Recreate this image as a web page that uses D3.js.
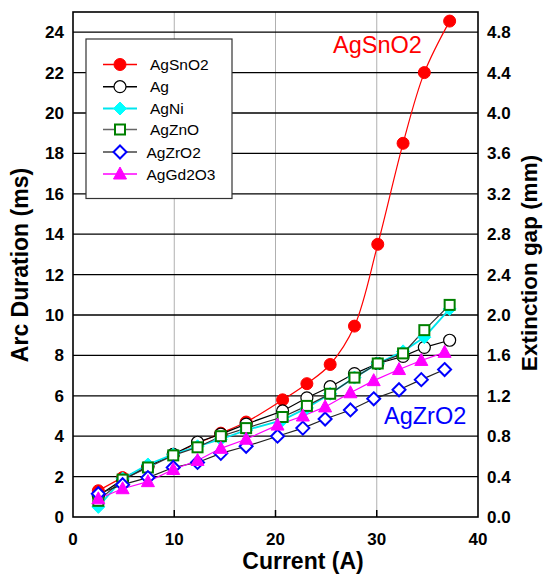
<!DOCTYPE html>
<html><head><meta charset="utf-8">
<script src="https://cdn.jsdelivr.net/npm/d3@7"></script>
<style>body{margin:0;background:#fff}svg{display:block;font-family:"Liberation Sans",Arial,sans-serif}</style>
</head><body><svg id="c" width="544" height="574"></svg>
<script>
const currentA = [2.5,4.9,7.4,9.9,12.3,14.6,17.1,20.7,23.1,25.4,27.8,30.1,32.6,34.7,37.2];
const currentB = [2.5,4.9,7.4,9.9,12.3,14.6,17.1,20.2,22.7,24.9,27.4,29.7,32.2,34.4,36.7];
const AgSnO2  = [1.3,1.95,2.5,3.1,3.65,4.15,4.7,5.8,6.6,7.55,9.45,13.5,18.5,22.0,24.55];
const Ag      = [1.05,1.85,2.5,3.1,3.7,4.1,4.6,5.25,5.9,6.45,7.1,7.6,7.95,8.4,8.75];
const AgNi    = [0.5,1.9,2.6,3.1,3.5,3.85,4.3,4.8,5.4,6.1,6.9,7.6,8.2,8.9,10.3];
const AgZnO   = [0.8,1.85,2.45,3.05,3.45,4.0,4.4,4.95,5.5,6.1,6.9,7.6,8.1,9.25,10.5];
const AgZrO2  = [1.15,1.6,1.95,2.45,2.7,3.15,3.5,4.0,4.4,4.85,5.3,5.85,6.3,6.8,7.3];
const AgGd2O3 = [0.9,1.4,1.75,2.35,2.8,3.4,3.85,4.55,5.0,5.45,6.15,6.75,7.3,7.75,8.15];
const xTicks = [0,10,20,30,40];
const yTicks = [0,2,4,6,8,10,12,14,16,18,20,22,24];
const y2Ticks = ["0.0","0.4","0.8","1.2","1.6","2.0","2.4","2.8","3.2","3.6","4.0","4.4","4.8"];
const seriesNames = ["AgSnO2","Ag","AgNi","AgZnO","AgZrO2","AgGd2O3"];

const series = [
  {name:"AgSnO2", x:currentA, y:AgSnO2, line:"#ff0000", lw:1.2, marker:"circle", fill:"#ff0000", stroke:"#ff0000", curve:d3.curveCatmullRom.alpha(0.5)},
  {name:"Ag", x:currentA, y:Ag, line:"#000", lw:1.2, marker:"circle", fill:"#fff", stroke:"#000", sw:1.2, curve:d3.curveLinear},
  {name:"AgNi", x:currentA, y:AgNi, line:"#00e5ee", lw:1.8, marker:"diamond", fill:"#00ffff", stroke:"#00ffff", curve:d3.curveLinear},
  {name:"AgZnO", x:currentA, y:AgZnO, line:"#333", lw:1.2, marker:"square", fill:"#fff", stroke:"#008000", sw:2, curve:d3.curveLinear},
  {name:"AgZrO2", x:currentB, y:AgZrO2, line:"#222", lw:1.2, marker:"diamond", fill:"#fff", stroke:"#0000ff", sw:2, curve:d3.curveLinear},
  {name:"AgGd2O3", x:currentB, y:AgGd2O3, line:"#ff00ff", lw:1.2, marker:"triangle", fill:"#ff00ff", stroke:"#ff00ff", curve:d3.curveLinear}
];

const svg = d3.select("#c");
const L=73, R=478, T=12, B=517;
const x = d3.scaleLinear().domain([0,40]).range([L,R]);
const y = d3.scaleLinear().domain([0,25]).range([B,T]);
const y2 = d3.scaleLinear().domain([0,5]).range([B,T]);

svg.append("g").selectAll("line").data(xTicks.slice(1,-1)).join("line")
  .attr("x1",d=>x(d)).attr("x2",d=>x(d)).attr("y1",T).attr("y2",B)
  .attr("stroke","#b0b0b0").attr("stroke-width",1);
svg.append("g").selectAll("line").data(yTicks.slice(1)).join("line")
  .attr("x1",L).attr("x2",R).attr("y1",d=>y(d)).attr("y2",d=>y(d))
  .attr("stroke","#000").attr("stroke-width",1.3);
svg.append("g").selectAll("line").data(xTicks.slice(1,-1)).join("line")
  .attr("x1",d=>x(d)).attr("x2",d=>x(d)).attr("y1",B).attr("y2",B-7)
  .attr("stroke","#000").attr("stroke-width",1.5);
svg.append("rect").attr("x",L).attr("y",T).attr("width",R-L).attr("height",B-T)
  .attr("fill","none").attr("stroke","#000").attr("stroke-width",1.6);

svg.append("clipPath").attr("id","pc").append("rect")
  .attr("x",L).attr("y",T).attr("width",R-L).attr("height",B-T);

function drawMarker(g, type, s, cx, cy){
  let el;
  if(type==="circle"){
    el = g.append("circle").attr("cx",cx).attr("cy",cy).attr("r",6);
  } else if(type==="square"){
    el = g.append("rect").attr("x",cx-5).attr("y",cy-5).attr("width",10).attr("height",10);
  } else if(type==="diamond"){
    el = g.append("path").attr("d",`M${cx},${cy-6.5}L${cx+6.5},${cy}L${cx},${cy+6.5}L${cx-6.5},${cy}Z`);
  } else {
    el = g.append("path").attr("d",`M${cx},${cy-7}L${cx+6.5},${cy+5}L${cx-6.5},${cy+5}Z`);
  }
  el.attr("fill",s.fill).attr("stroke",s.stroke).attr("stroke-width", s.sw||1);
}

const plot = svg.append("g").attr("clip-path","url(#pc)");
series.forEach(s=>{
  const pts = s.x.map((v,i)=>[v,s.y[i]]);
  const line = d3.line().x(d=>x(d[0])).y(d=>y(d[1])).curve(s.curve);
  plot.append("path").attr("d",line(pts)).attr("fill","none")
    .attr("stroke",s.line).attr("stroke-width",s.lw);
});
series.forEach(s=>{
  const g = plot.append("g");
  s.x.forEach((v,i)=>drawMarker(g, s.marker, s, x(v), y(s.y[i])));
});

svg.append("g").selectAll("text").data(xTicks).join("text")
  .attr("x",d=>x(d)).attr("y",545).attr("text-anchor","middle")
  .attr("font-size",17).attr("font-weight","bold").text(d=>d);
svg.append("g").selectAll("text").data(yTicks).join("text")
  .attr("x",64).attr("y",d=>y(d)+6).attr("text-anchor","end")
  .attr("font-size",17).attr("font-weight","bold").text(d=>d);
svg.append("g").selectAll("text").data(y2Ticks).join("text")
  .attr("x",487).attr("y",d=>y2(+d)+6).attr("text-anchor","start")
  .attr("font-size",17).attr("font-weight","bold").text(d=>d);

svg.append("text").attr("x",303).attr("y",569).attr("text-anchor","middle")
  .attr("font-size",23).attr("font-weight","bold").text("Current (A)");
svg.append("text").attr("transform","translate(28,265) rotate(-90)").attr("text-anchor","middle")
  .attr("font-size",23).attr("font-weight","bold").text("Arc Duration (ms)");
svg.append("text").attr("transform","translate(537,263) rotate(-90)").attr("text-anchor","middle")
  .attr("font-size",22.5).attr("font-weight","bold").text("Extinction gap (mm)");

svg.append("text").attr("x",333).attr("y",53).attr("fill","#ff0000")
  .attr("font-size",23.5).text("AgSnO2");
svg.append("text").attr("x",384).attr("y",424).attr("fill","#0000ff")
  .attr("font-size",23.5).text("AgZrO2");

const lg = svg.append("g");
lg.append("rect").attr("x",86).attr("y",39).attr("width",146).attr("height",159.5)
  .attr("fill","#fff").attr("stroke","#333").attr("stroke-width",1.2);
const rowY = [64.5,86.7,108.5,129.5,152,174];
const textX = [150,150,150,150,146.5,146.5];
series.forEach((s,i)=>{
  const yy = rowY[i];
  lg.append("line").attr("x1",103).attr("x2",137).attr("y1",yy).attr("y2",yy)
    .attr("stroke", s.name==="AgZnO"?"#666":(s.name==="AgZrO2"?"#444":s.line)).attr("stroke-width",s.name==="AgNi"?1.8:1.5);
  drawMarker(lg, s.marker, s, 120, yy);
  lg.append("text").attr("x",textX[i]).attr("y",yy+5.5).attr("font-size",15.5).text(seriesNames[i]);
});
</script></body></html>
